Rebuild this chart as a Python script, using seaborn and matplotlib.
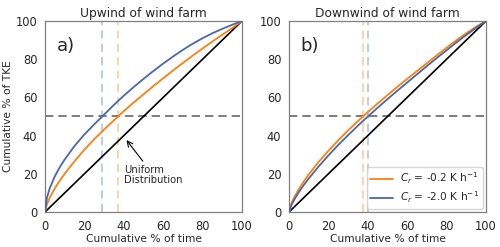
import numpy as np
import pandas as pd
import matplotlib
matplotlib.use("Agg")
import matplotlib.pyplot as plt
import seaborn as sns

# Cumulative % of time (x) and cumulative % of TKE (y)
time_pct = [0, 1, 2.5, 5, 7.5, 10, 15, 20, 25, 30, 35, 40, 45, 50,
            55, 60, 65, 70, 75, 80, 85, 90, 95, 100]

# Upwind of wind farm
up_weak = [0, 4.0, 7.7, 12.4, 16.4, 20.0, 26.6, 32.6, 38.1, 43.2, 48.0, 52.8,
           57.3, 61.6, 65.9, 70.0, 74.1, 78.0, 81.9, 85.6, 89.3, 92.8, 96.3, 100]   # Cr = -0.2
up_strong = [0, 7.6, 12.7, 18.7, 23.5, 27.5, 34.6, 40.6, 45.9, 51.0, 56.1, 60.9,
             65.4, 69.7, 73.8, 77.7, 81.4, 84.9, 88.1, 91.0, 93.6, 95.9, 98.0, 100]  # Cr = -2.0

# Downwind of wind farm
down_weak = [0, 3.9, 7.4, 12.0, 16.0, 19.6, 26.2, 32.0, 37.5, 42.7, 47.6, 52.3,
             56.8, 61.2, 65.5, 69.7, 73.8, 77.9, 82.0, 86.0, 89.9, 93.6, 97.0, 100]
down_strong = [0, 3.1, 6.2, 10.4, 14.1, 17.5, 23.8, 29.6, 35.1, 40.2, 45.2, 50.0,
               54.6, 59.1, 63.5, 67.8, 72.1, 76.4, 80.6, 84.7, 88.8, 92.7, 96.4, 100]

uniform = [0, 100]

# time at which 50% of TKE is reached
up_half = {"weak": 37, "strong": 29}
down_half = {"weak": 37.5, "strong": 40}

titles = ["Upwind of wind farm", "Downwind of wind farm"]
panel_labels = ["a)", "b)"]
legend_labels = [r"$C_r$ = -0.2 K h$^{-1}$", r"$C_r$ = -2.0 K h$^{-1}$"]

ORANGE = "#ff7f0e"
BLUE = "#4a67a8"

sns.set_style("white")
plt.rcParams["font.family"] = ["DejaVu Sans"]

fig = plt.figure(figsize=(5.0, 2.47), dpi=100)
ax1 = fig.add_axes([0.09, 0.1417, 0.394, 0.7733])
ax2 = fig.add_axes([0.578, 0.1417, 0.394, 0.7733])

def make_df(weak, strong):
    return pd.DataFrame({
        "time": time_pct * 2,
        "tke": list(weak) + list(strong),
        "case": [legend_labels[0]] * len(time_pct) + [legend_labels[1]] * len(time_pct),
    })

for ax, weak, strong, half, title, lab in [
    (ax1, up_weak, up_strong, up_half, titles[0], panel_labels[0]),
    (ax2, down_weak, down_strong, down_half, titles[1], panel_labels[1]),
]:
    df = make_df(weak, strong)
    ax.axvline(half["strong"], color=BLUE, alpha=0.4, ls=(0, (5, 3)), lw=1.2, zorder=1)
    ax.axvline(half["weak"], color=ORANGE, alpha=0.4, ls=(0, (5, 3)), lw=1.2, zorder=1)
    ax.axhline(50, color="0.4", ls=(0, (5, 3)), lw=1.2, zorder=1)
    sns.lineplot(data=df, x="time", y="tke", hue="case",
                 palette={legend_labels[0]: ORANGE, legend_labels[1]: BLUE},
                 lw=1.3, ax=ax, legend=(ax is ax2), zorder=3)
    sns.lineplot(x=uniform, y=uniform, color="black", lw=1.2, ax=ax, zorder=2)
    ax.set_xlim(0, 100)
    ax.set_ylim(0, 100)
    ax.set_xticks([0, 20, 40, 60, 80, 100])
    ax.set_yticks([0, 20, 40, 60, 80, 100])
    ax.tick_params(labelsize=8.3, length=3.5, width=0.8, color="0.2", pad=2)
    ax.set_xlabel("Cumulative % of time", fontsize=7.7, labelpad=1)
    ax.set_title(title, fontsize=8.8, pad=3)
    ax.text(6, 87, lab, fontsize=13, ha="left", va="center")
    for s in ax.spines.values():
        s.set_color("0.5")
        s.set_linewidth(0.9)

ax1.set_ylabel("Cumulative % of TKE", fontsize=7.7, labelpad=2)
ax2.set_ylabel("")

ax1.annotate("", xy=(40.5, 38.8), xytext=(50.5, 25.5),
             arrowprops=dict(arrowstyle="->", color="black", lw=0.8))
ax1.text(40, 19.5, "Uniform\nDistribution", fontsize=7.2, ha="left", va="center",
         linespacing=1.05)

leg = ax2.legend(loc="lower right", fontsize=7.6, frameon=True, handlelength=2.1,
                 borderpad=0.35, labelspacing=0.3, handletextpad=0.7,
                 borderaxespad=0.3)
leg.get_frame().set_edgecolor("0.8")

fig.savefig("out.png", dpi=100)
